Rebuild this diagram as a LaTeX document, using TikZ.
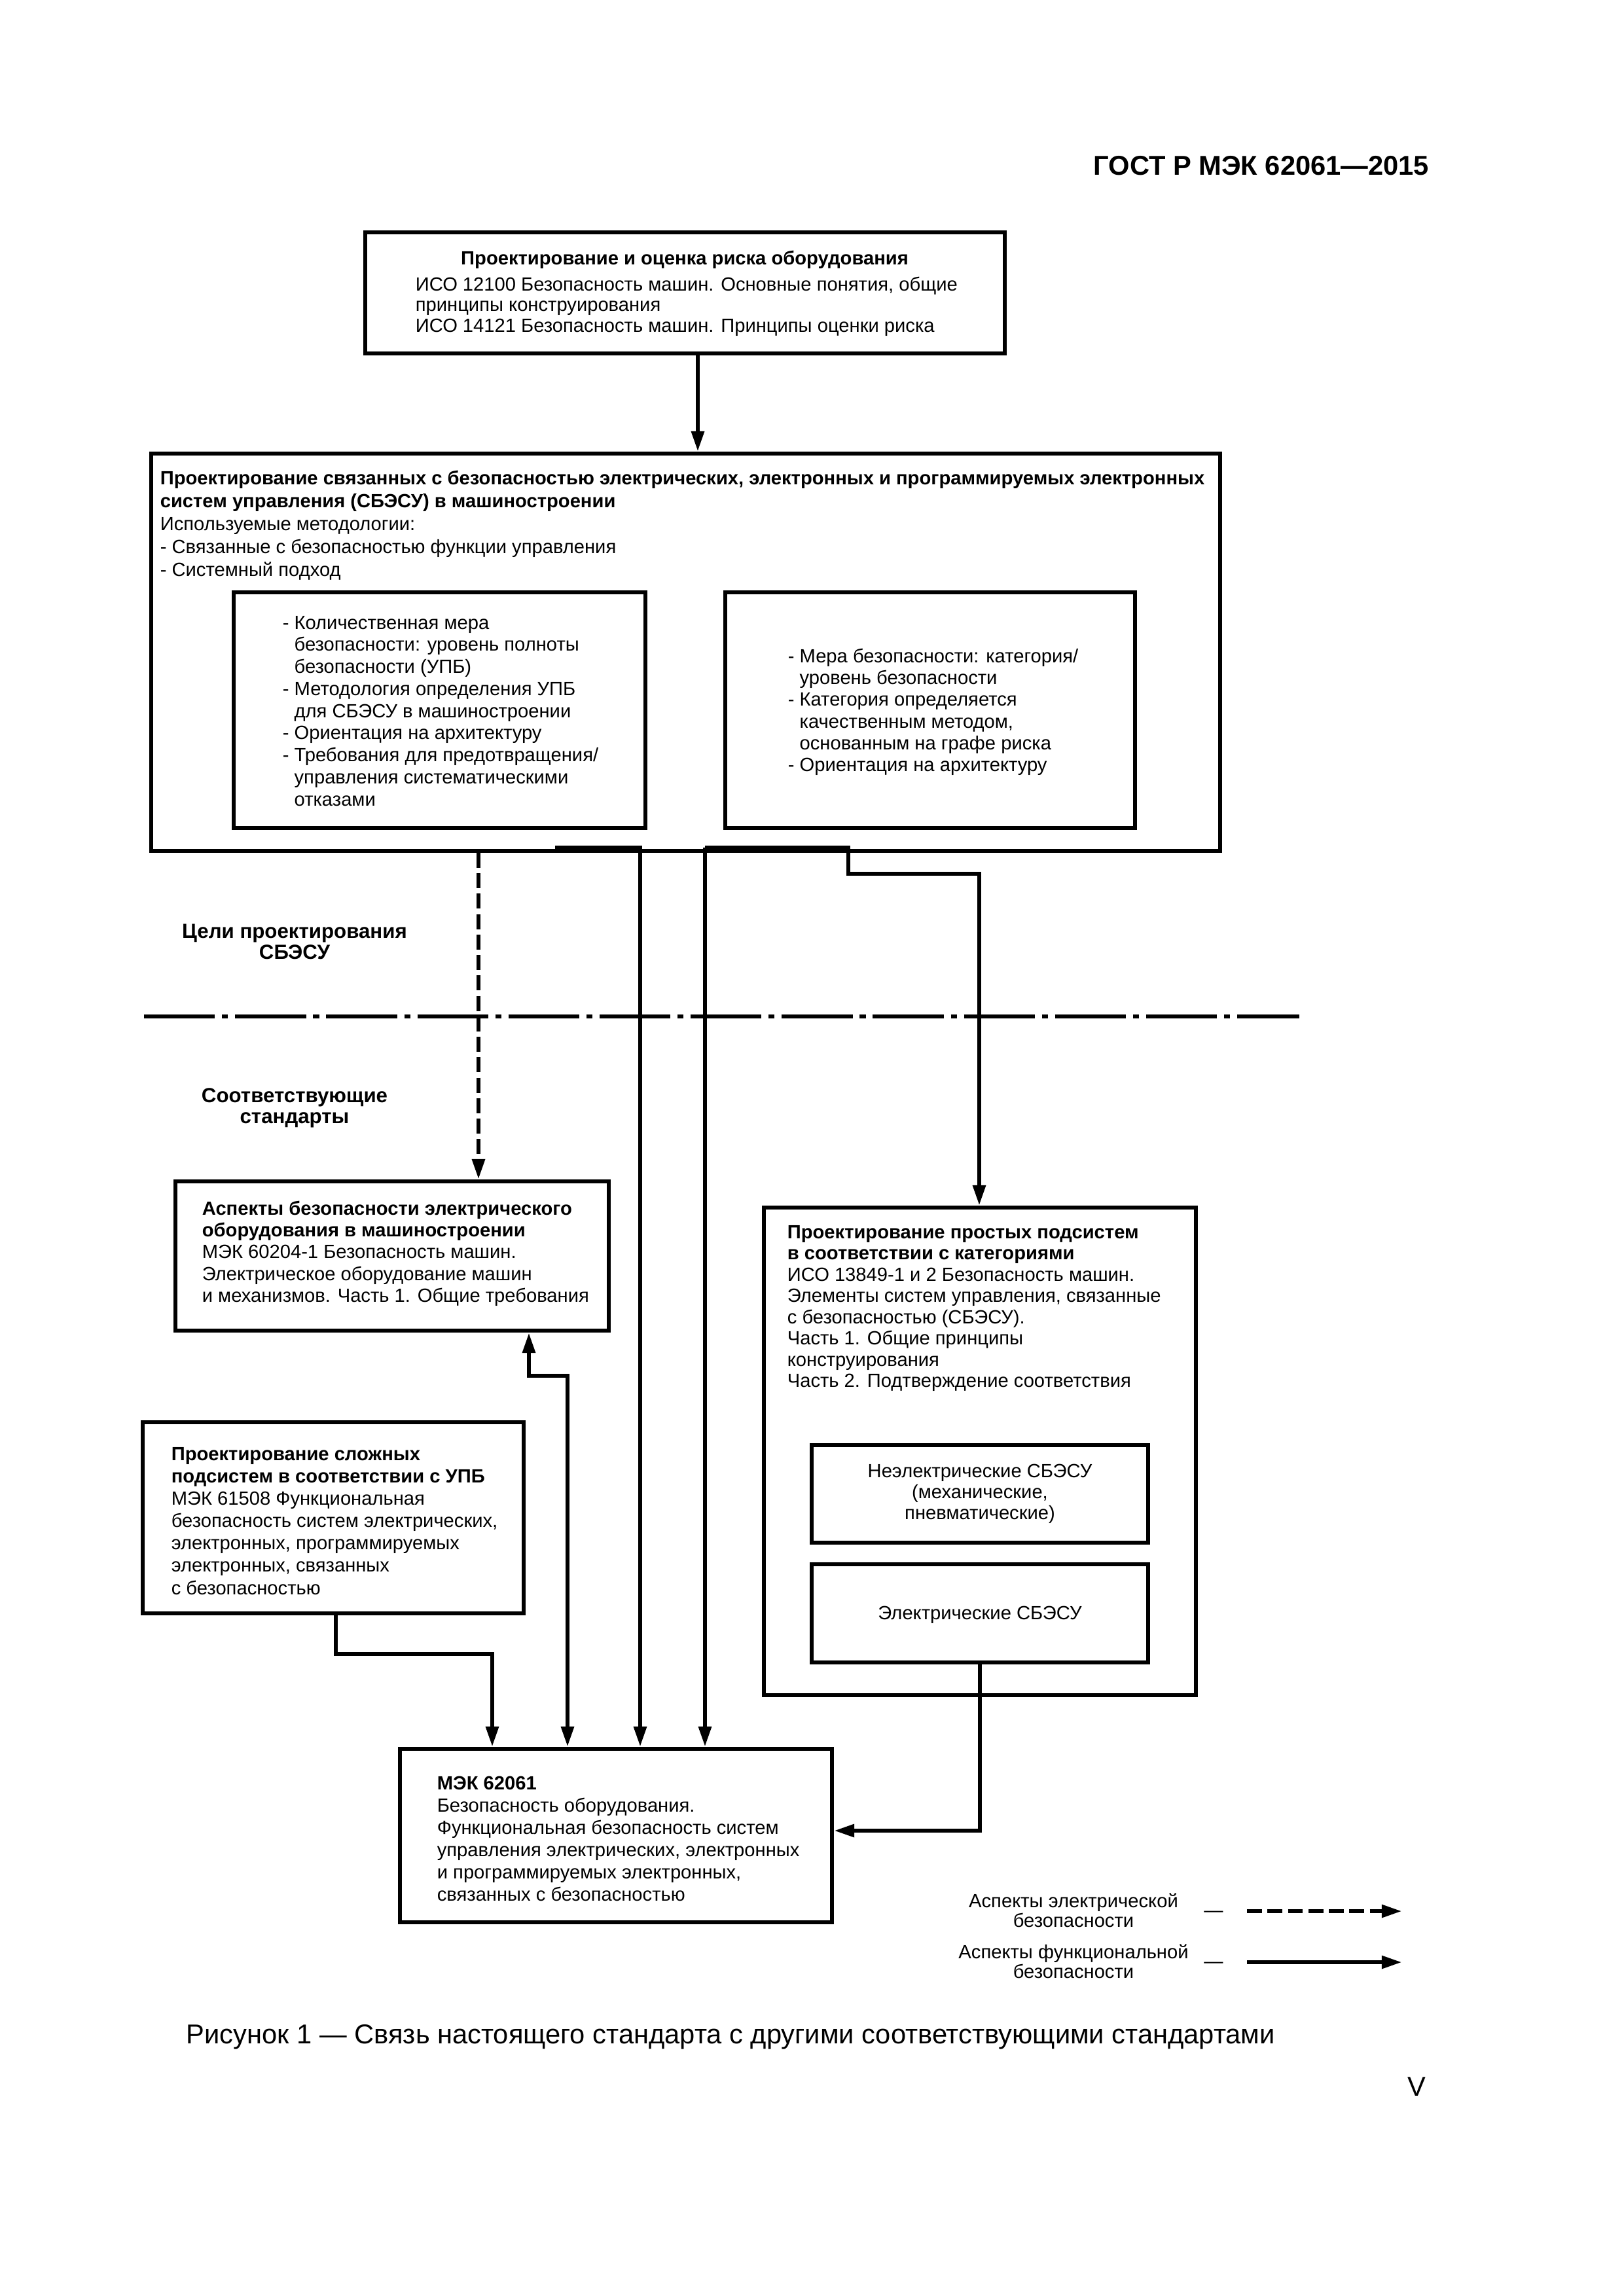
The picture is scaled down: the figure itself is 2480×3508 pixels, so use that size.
\documentclass[tikz,border=0pt]{standalone}
\usepackage{fontspec}
\setmainfont{Liberation Sans}
\usetikzlibrary{arrows.meta,fit}
\newcommand{\Lft}[1]{\begin{tabular}[t]{@{}l@{}}#1\end{tabular}}
\newcommand{\Ctr}[1]{\begin{tabular}[t]{@{}c@{}}#1\end{tabular}}
\newcommand{\ind}{\hphantom{-\ }}
\begin{document}
\begin{tikzpicture}[x=0.24bp,y=-0.24bp,
 >={Triangle[length=7.5bp,width=4.5bp]},
 box/.style={draw,line width=1.4bp,inner sep=0pt},
 txt/.style={inner sep=0pt,anchor=base west,font=\fontsize{7bp}{8.2bp}\selectfont},
 ctxt/.style={inner sep=0pt,anchor=base,font=\fontsize{7bp}{8.2bp}\selectfont},
 conn/.style={line width=1.6bp},
 arr/.style={conn,->},
 dashline/.style={dash pattern=on 5.5bp off 2bp},
 ]
\useasboundingbox (0,0) rectangle (2480,3508);

% header
\node[inner sep=0pt,anchor=base east,font=\fontsize{10bp}{12bp}\selectfont\bfseries] (hdr) at (2184,267) {ГОСТ Р МЭК 62061—2015};

% boxes
\node[box,fit={(558,355)(1535,540)}] (topbox) {};
\node[box,fit={(231,693)(1864,1300)}] (bigbox) {};
\node[box,fit={(357,905)(986,1265)}] (innerL) {};
\node[box,fit={(1108,905)(1734,1265)}] (innerR) {};
\node[box,fit={(268,1805)(930,2033)}] (aspects) {};
\node[box,fit={(1167,1845)(1827,2590)}] (simple) {};
\node[box,fit={(1240,2208)(1754,2357)}] (noneltr) {};
\node[box,fit={(1240,2390)(1754,2540)}] (eltr) {};
\node[box,fit={(218,2173)(800,2465)}] (complex) {};
\node[box,fit={(611,2672)(1271,2937)}] (iec) {};

% texts
\node[ctxt,font=\fontsize{7bp}{8bp}\selectfont\bfseries] (topT) at (1046,404) {Проектирование и оценка риска оборудования};
\node[txt,font=\fontsize{7bp}{7.6bp}\selectfont] (topL) at (634,444) {\Lft{ИСО 12100 Безопасность машин. Основные понятия, общие\\принципы конструирования\\ИСО 14121 Безопасность машин. Принципы оценки риска}};

\node[txt,font=\fontsize{7bp}{8.4bp}\selectfont] (bigT) at (244,740) {\Lft{\textbf{Проектирование связанных с безопасностью электрических, электронных и программируемых электронных}\\\textbf{систем управления (СБЭСУ) в машиностроении}\\Используемые методологии:\\- Связанные с безопасностью функции управления\\- Системный подход}};

\node[txt,font=\fontsize{7bp}{8.1bp}\selectfont] (innerLT) at (431,961) {\Lft{- Количественная мера\\\ind безопасности: уровень полноты\\\ind безопасности (УПБ)\\- Методология определения УПБ\\\ind для СБЭСУ в машиностроении\\- Ориентация на архитектуру\\- Требования для предотвращения/\\\ind управления систематическими\\\ind отказами}};

\node[txt,font=\fontsize{7bp}{8bp}\selectfont] (innerRT) at (1203,1012) {\Lft{- Мера безопасности: категория/\\\ind уровень безопасности\\- Категория определяется\\\ind качественным методом,\\\ind основанным на графе риска\\- Ориентация на архитектуру}};

\node[ctxt,font=\fontsize{7.5bp}{7.9bp}\selectfont\bfseries] (lab1) at (450,1433) {\Ctr{Цели проектирования\\СБЭСУ}};
\node[ctxt,font=\fontsize{7.5bp}{7.9bp}\selectfont\bfseries] (lab2) at (450,1684) {\Ctr{Соответствующие\\стандарты}};

\node[txt,font=\fontsize{7bp}{8bp}\selectfont] (aspT) at (308,1856) {\Lft{\textbf{Аспекты безопасности электрического}\\\textbf{оборудования в машиностроении}\\МЭК 60204-1 Безопасность машин.\\Электрическое оборудование машин\\и механизмов. Часть 1. Общие требования}};

\node[txt,font=\fontsize{7bp}{7.8bp}\selectfont] (simT) at (1202,1892) {\Lft{\textbf{Проектирование простых подсистем}\\\textbf{в соответствии с категориями}\\ИСО 13849-1 и 2 Безопасность машин.\\Элементы систем управления, связанные\\с безопасностью (СБЭСУ).\\Часть 1. Общие принципы\\конструирования\\Часть 2. Подтверждение соответствия}};

\node[ctxt,font=\fontsize{7bp}{7.7bp}\selectfont] (nonT) at (1497,2257) {\Ctr{Неэлектрические СБЭСУ\\(механические,\\пневматические)}};
\node[ctxt] (elT) at (1497,2474) {Электрические СБЭСУ};

\node[txt,font=\fontsize{7bp}{8.2bp}\selectfont] (cxT) at (261,2231) {\Lft{\textbf{Проектирование сложных}\\\textbf{подсистем в соответствии с УПБ}\\МЭК 61508 Функциональная\\безопасность систем электрических,\\электронных, программируемых\\электронных, связанных\\с безопасностью}};

\node[txt,font=\fontsize{7bp}{8.2bp}\selectfont] (iecT) at (667,2734) {\Lft{\textbf{МЭК 62061}\\Безопасность оборудования.\\Функциональная безопасность систем\\управления электрических, электронных\\и программируемых электронных,\\связанных с безопасностью}};

% legend
\node[ctxt,font=\fontsize{7bp}{7.4bp}\selectfont] (leg1) at (1640,2914) {\Ctr{Аспекты электрической\\безопасности}};
\node[ctxt,font=\fontsize{7bp}{7.4bp}\selectfont] (leg2) at (1640,2992) {\Ctr{Аспекты функциональной\\безопасности}};
\node[ctxt] (legd1) at (1854,2928) {—};
\node[ctxt] (legd2) at (1854,3006) {—};
\coordinate (l1a) at (1905,2920);
\coordinate (l1b) at (2142,2920);
\coordinate (l2a) at (1905,2998);
\coordinate (l2b) at (2142,2998);
\draw[arr,dashline] (l1a) -- (l1b);
\draw[arr] (l2a) -- (l2b);

% caption and page number
\node[inner sep=0pt,anchor=base west,font=\fontsize{10bp}{12bp}\selectfont] (cap) at (284,3122) {Рисунок 1 — Связь настоящего стандарта с другими соответствующими стандартами};
\node[inner sep=0pt,anchor=base,font=\fontsize{10bp}{12bp}\selectfont] (pg) at (2164,3202) {V};

% dash-dot separator
\coordinate (dl1) at (220,1553);
\coordinate (dl2) at (1985,1553);
\draw[line width=1.3bp,dash pattern=on 26bp off 2.6bp on 2.2bp off 2.6bp] (dl1) -- (dl2);

% connectors
\coordinate (xA) at (1066,0);
\draw[arr] (topbox.south -| xA) -- (bigbox.north -| xA);
\coordinate (xD) at (731,0);
\draw[arr,dashline] (bigbox.south -| xD) -- (aspects.north -| xD);
\coordinate (s1) at (848,1295);
\coordinate (x1) at (978,0);
\draw[arr] (s1) -| (iec.north -| x1);
\coordinate (s2) at (1077,1295);
\draw[arr] (s2) -- (iec.north -| s2);
\coordinate (s3) at (1296,1295);
\coordinate (s4) at (1496,1335);
\draw[arr] (s2) -- (s3) |- (s4) -- (simple.north -| s4);
\coordinate (j1) at (808,2102);
\coordinate (xb) at (867,0);
\draw[conn,<->] (aspects.south -| j1) -- (j1) -| (iec.north -| xb);
\coordinate (j2) at (513,2527);
\coordinate (xc) at (752,0);
\draw[arr] (complex.south -| j2) -- (j2) -| (iec.north -| xc);
\coordinate (j3) at (1497,2797);
\draw[arr] (eltr.south -| j3) -- (j3) -- (iec.east |- j3);
\end{tikzpicture}
\end{document}
